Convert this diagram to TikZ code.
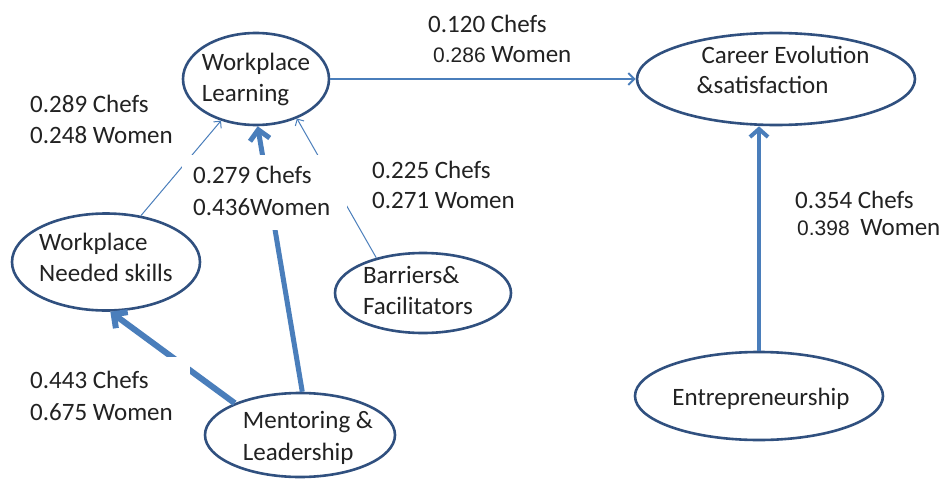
\documentclass[tikz,border=0pt]{standalone}
\usepackage{fontspec}
\setmainfont{Carlito}
\newfontfamily\numfont{Liberation Sans}
\usetikzlibrary{arrows.meta,shapes.geometric}
\setlength{\parindent}{0pt}
\definecolor{edgeblue}{HTML}{4A7EBB}
\definecolor{rimblue}{HTML}{30507F}
\definecolor{ink}{HTML}{222222}
% font size 25 with a chosen line spacing
\newcommand\lsz[1]{\fontsize{25}{#1}\selectfont}
\newcommand\strutht[1]{\rule{0pt}{#1}}
\newcommand\strutdp[1]{\rule[-#1]{0pt}{#1}}
\newcommand\arialnum[1]{{\numfont\fontsize{21}{21}\selectfont #1}}

\begin{document}
\begin{tikzpicture}[x=1pt,y=-1pt,
  bubble/.style={ellipse, draw=rimblue, line width=2.6pt, fill=white,
    inner xsep=-30pt, inner ysep=-10pt, align=left, text=ink, font=\lsz{31}},
  lbl/.style={anchor=north west, inner sep=0pt, align=left, text=ink, font=\lsz{31}},
  mask/.style={fill=white, inner xsep=#1, inner ysep=0pt},
  conn/.style={draw=edgeblue, line cap=butt},
  thinarrow/.style={conn, line width=1pt, -{Straight Barb[length=5pt,width=10pt]}},
  midarrow/.style={conn, line width=2pt, -{Straight Barb[length=6pt,width=12pt]}},
  boldarrow/.style={conn, line width=4pt, -{Straight Barb[length=8pt,width=18pt]}},
  heavyarrow/.style={conn, line width=#1, -{Straight Barb[length=10pt,width=20pt]}}
]
\useasboundingbox (0,0) rectangle (943,479);

% constructs
\node[bubble, minimum width=146pt, minimum height=92pt] (WL) at (256,79)
  {Workplace\\Learning};
\node[bubble, minimum width=188pt, minimum height=97pt] (WNS) at (106,262)
  {Workplace\\Needed skills\strutdp{9pt}};
\node[bubble, minimum width=176pt, minimum height=80pt] (BF) at (423,293)
  {Barriers\&\\Facilitators\hspace*{10pt}\strutdp{6pt}};
\node[bubble, minimum width=190pt, minimum height=84pt, font=\lsz{32}] (ML) at (300,435)
  {\hspace*{16pt}\strutht{24pt}Mentoring \&\\\hspace*{16pt}Leadership};
\node[bubble, minimum width=278pt, minimum height=92pt, font=\lsz{30}] (CE) at (776,79)
  {\hspace*{19pt}Career Evolution\\\hspace*{14pt}\&satisfaction\strutdp{19pt}};
\node[bubble, minimum width=248pt, minimum height=88pt] (EN) at (759,396)
  {\hspace*{4pt}\strutht{23pt}Entrepreneurship};

% paths
\draw[midarrow] (WL.east) -- (CE.west);
\draw[boldarrow] (EN.north) -- (EN.north |- CE.south);
\draw[thinarrow] (WNS.53) -- (WL.230);
\draw[thinarrow] (BF.143) -- (WL.316);
\draw[heavyarrow=5pt] (ML.87) -- (WL.272);
\draw[heavyarrow=6pt] (ML.154) -- (WNS.275);

% path coefficients
\node[lbl, font=\lsz{30}] (c120) at (428,10)
  {\strutht{22pt}0.120 Chefs\\\hspace*{5pt}\arialnum{0.286} Women};
\node[lbl] (c289) at (30,90)
  {\strutht{22pt}0.289 Chefs\\0.248 Women};
\node[lbl, mask=11pt, text width=143pt, font=\lsz{32}] (c279) at (182,155)
  {\spaceskip=0pt\xspaceskip=0pt\mbox{\strutht{28pt}0.279 Chefs}\\\mbox{0.436Women\strutdp{15pt}}};
\node[lbl, font=\lsz{30}] (c225) at (372,156)
  {\strutht{22pt}0.225 Chefs\\0.271 Women};
\node[lbl, mask=5pt, text width=155pt, font=\lsz{32}] (c443) at (25,357)
  {\spaceskip=0pt\xspaceskip=0pt\mbox{\strutht{31pt}0.443 Chefs}\\\mbox{0.675 Women\strutdp{12pt}}};
\node[lbl, font=\lsz{27}] (c354) at (795,186)
  {\strutht{22pt}0.354 Chefs\\\hspace*{2pt}\arialnum{0.398}\hspace{5pt} Women};
\end{tikzpicture}
\end{document}
